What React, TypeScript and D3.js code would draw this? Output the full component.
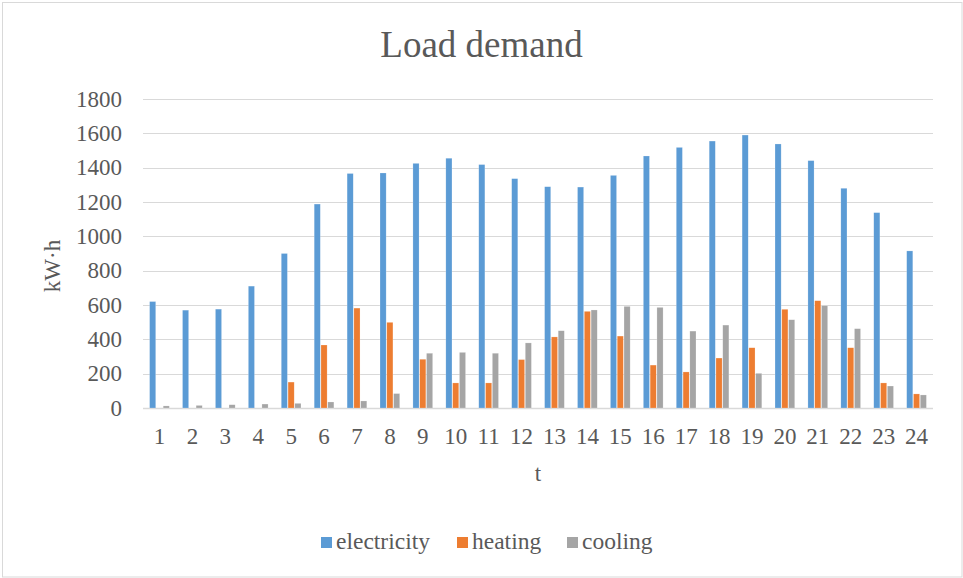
import React from "react";
import { scaleBand, scaleLinear } from "d3";

const W = 963;
const H = 578;
const MARGIN = { top: 99, right: 30, bottom: 170, left: 143 };

const hours = ["1", "2", "3", "4", "5", "6", "7", "8", "9", "10", "11", "12", "13", "14", "15", "16", "17", "18", "19", "20", "21", "22", "23", "24"];
const electricity = [620, 570, 576, 710, 900, 1188, 1366, 1369, 1425, 1455, 1418, 1336, 1289, 1287, 1355, 1468, 1518, 1555, 1590, 1538, 1441, 1280, 1138, 915];
const heating = [0, 0, 0, 0, 151, 367, 582, 499, 284, 146, 146, 282, 414, 563, 419, 250, 210, 291, 351, 575, 625, 351, 146, 82];
const cooling = [12, 15, 19, 23, 27, 35, 41, 84, 319, 324, 319, 379, 450, 571, 592, 586, 448, 483, 202, 514, 596, 462, 128, 76];
const yTicks = [0, 200, 400, 600, 800, 1000, 1200, 1400, 1600, 1800];

const seriesNames = ["electricity", "heating", "cooling"];
const seriesData = [electricity, heating, cooling];
const COLORS = ["#5B9BD5", "#ED7D31", "#A5A5A5"];

const FONT = "'Liberation Serif', 'Times New Roman', serif";
const TEXT = "#595959";

export default function App() {
  const innerW = W - MARGIN.left - MARGIN.right;
  const innerH = H - MARGIN.top - MARGIN.bottom;

  const x = scaleBand().domain(hours).range([0, innerW]).paddingInner(0.36).paddingOuter(0.18);
  const xs = scaleBand().domain(seriesNames).range([0, x.bandwidth()]).padding(0.1);
  const y = scaleLinear().domain([0, 1800]).range([innerH, 0]);

  const legendX = [321, 457, 567];

  return (
    <svg width={W} height={H} style={{ position: "absolute", left: 0, top: 0 }}>
      <rect x={2.5} y={2.5} width={W - 3.5} height={H - 3.5} fill="#fff" stroke="#d9d9d9" />
      <text x={W / 2} y={57} textAnchor="middle" fontFamily={FONT} fontSize={37} fill={TEXT}>
        Load demand
      </text>
      <g transform={`translate(${MARGIN.left},${MARGIN.top})`}>
        {yTicks.map((t) => (
          <g key={t}>
            <line x1={0} x2={innerW} y1={Math.round(y(t)) + 0.5} y2={Math.round(y(t)) + 0.5} stroke="#d9d9d9" strokeWidth={t === 0 ? 1.5 : 1.2} />
            <text x={-21} y={y(t)} dy="0.33em" textAnchor="end" fontFamily={FONT} fontSize={23} fill={TEXT}>
              {t}
            </text>
          </g>
        ))}
        {seriesData.map((vals, si) =>
          vals.map((v, i) => (
            <rect
              key={`${si}-${i}`}
              x={(x(hours[i]) ?? 0) + (xs(seriesNames[si]) ?? 0)}
              y={y(v)}
              width={xs.bandwidth()}
              height={innerH - y(v)}
              fill={COLORS[si]}
              stroke="#fff"
              strokeOpacity={0.4}
              strokeWidth={0.5}
            />
          ))
        )}
        {hours.map((h) => (
          <text key={h} x={(x(h) ?? 0) + x.bandwidth() / 2} y={innerH + 36} textAnchor="middle" fontFamily={FONT} fontSize={23} fill={TEXT}>
            {h}
          </text>
        ))}
        <text x={innerW / 2} y={innerH + 73} textAnchor="middle" fontFamily={FONT} fontSize={23} fill={TEXT}>
          t
        </text>
      </g>
      <text transform={`translate(60,266) rotate(-90)`} textAnchor="middle" fontFamily={FONT} fontSize={23} fill={TEXT}>
        kW·h
      </text>
      {seriesNames.map((n, i) => (
        <g key={n} transform={`translate(${legendX[i]},537)`}>
          <rect x={0} y={0} width={11} height={11} fill={COLORS[i]} />
          <text x={15} y={11.5} fontFamily={FONT} fontSize={23.5} fill={TEXT}>
            {n}
          </text>
        </g>
      ))}
    </svg>
  );
}
